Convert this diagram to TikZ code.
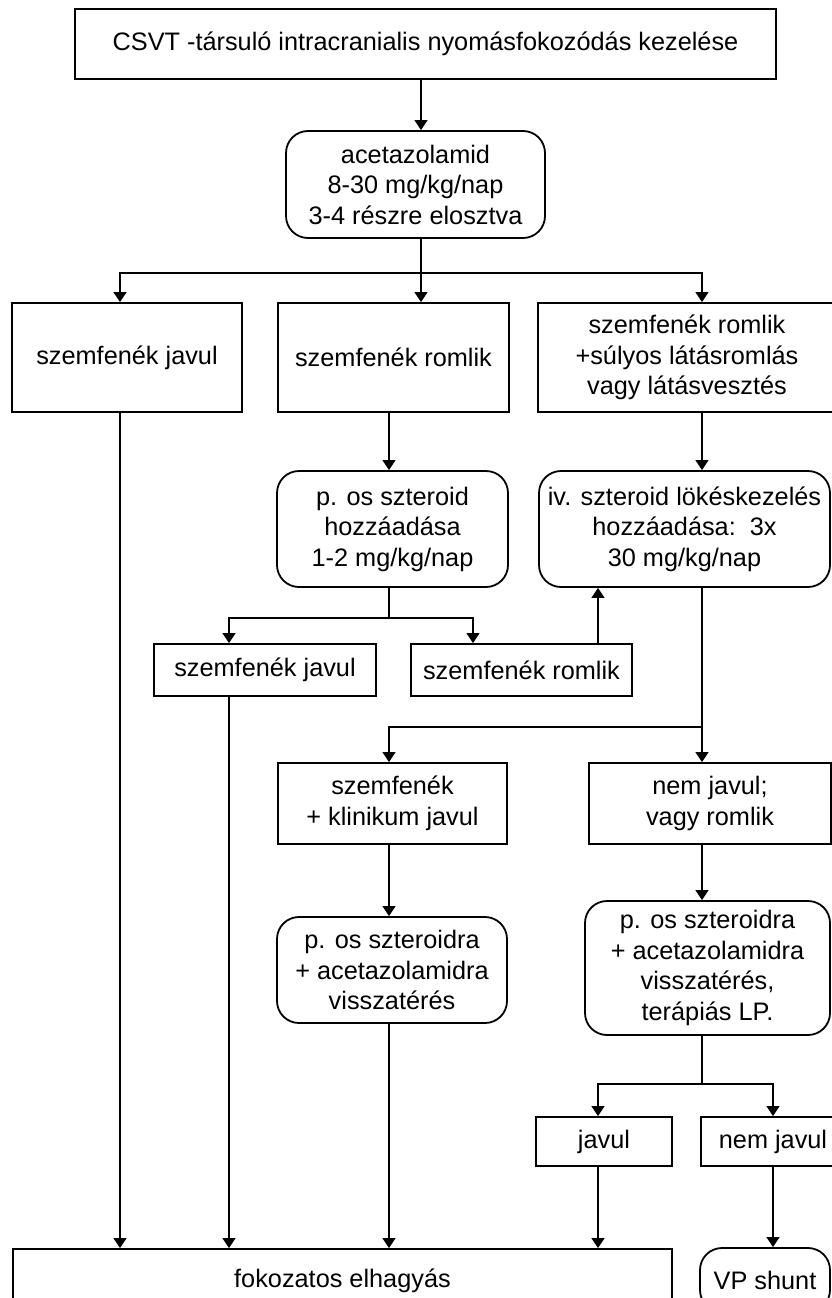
\documentclass[tikz,border=0pt]{standalone}
\usepackage{fontspec}
\setmainfont{Liberation Sans}
\usetikzlibrary{arrows.meta}
\tikzset{
	box/.style={draw, line width=1.8pt, align=center, inner sep=0pt},
	rbox/.style={box, rounded corners=22pt},
	conn/.style={line width=1.3pt}
}
\begin{document}
\begin{tikzpicture}[x=1pt,y=-1pt,>={Triangle[width=13pt,length=10pt]},font=\fontsize{25.3}{30.5}\selectfont]
	\useasboundingbox[fill=white] (0,0) rectangle (832,1298);
	% columns and split rows
	\coordinate (k0) at (421,0); \coordinate (k1) at (120,0); \coordinate (k2) at (229,0);
	\coordinate (k3) at (389,0); \coordinate (k4) at (473,0); \coordinate (k5) at (598,0);
	\coordinate (k6) at (702,0); \coordinate (k7) at (773,0);
	\coordinate (s1) at (0,273); \coordinate (s2) at (0,618);
	\coordinate (s3) at (0,727); \coordinate (s4) at (0,1084);
	% boxes
	\node [box, minimum width=701pt, minimum height=70pt] (top) at (425.5,44) {CSVT -társuló intracranialis nyomásfokozódás kezelése};
	\node [rbox, minimum width=259pt, minimum height=107pt] (acet) at (415.5,184.5) {acetazolamid\\8-30 mg/kg/nap\\3-4 részre elosztva};
	\node [box, minimum width=230pt, minimum height=109pt] (javul1) at (127,357.5) {szemfenék javul};
	\node [box, minimum width=231pt, minimum height=109pt] (romlik1) at (393.5,357.5) {szemfenék romlik};
	\node [box, minimum width=298pt, minimum height=109pt] (romlik2) at (687,357.5) {szemfenék romlik\\+súlyos látásromlás\\vagy látásvesztés};
	\node [rbox, minimum width=231pt, minimum height=116pt] (ossz) at (392.5,529) {p. os szteroid\\hozzáadása\\1-2 mg/kg/nap};
	\node [rbox, minimum width=291pt, minimum height=116pt] (ivsz) at (684.5,529) {iv. szteroid lökéskezelés\\hozzáadása:\ \ 3x\\30 mg/kg/nap};
	\node [box, minimum width=222pt, minimum height=52pt] (javul2) at (265,670) {szemfenék javul};
	\node [box, minimum width=221pt, minimum height=52pt] (romlik3) at (521.5,670) {szemfenék romlik};
	\node [box, minimum width=229pt, minimum height=81pt] (klin) at (392.5,803.5) {szemfenék\\+ klinikum javul};
	\node [box, minimum width=242pt, minimum height=81pt] (nemj1) at (710,803.5) {nem javul;\\vagy romlik};
	\node [rbox, minimum width=230pt, minimum height=106pt] (visz1) at (392,970) {p. os szteroidra\\+ acetazolamidra\\visszatérés};
	\node [rbox, minimum width=245pt, minimum height=134pt] (visz2) at (707.5,968) {p. os szteroidra\\+ acetazolamidra\\visszatérés,\\terápiás LP.};
	\node [box, minimum width=136pt, minimum height=49pt] (javul3) at (604,1141.5) {javul};
	\node [box, minimum width=144pt, minimum height=49pt] (nemj2) at (773,1141.5) {nem javul};
	\node [box, minimum width=659pt, minimum height=63pt] (fok) at (342.5,1280.5) {fokozatos elhagyás};
	\node [rbox, minimum width=130pt, minimum height=64pt] (vp) at (765,1280) {VP shunt};
	% connectors
	\draw [conn,->] (top.south -| k0) -- (acet.north -| k0);
	\draw [conn] (acet.south -| k0) -- (s1 -| k0);
	\draw [conn,->] (s1 -| k0) -| (javul1.north -| k1);
	\draw [conn,->] (s1 -| k0) -- (romlik1.north -| k0);
	\draw [conn,->] (s1 -| k0) -| (romlik2.north -| k6);
	\draw [conn,->] (romlik1.south -| k3) -- (ossz.north -| k3);
	\draw [conn,->] (romlik2.south -| k6) -- (ivsz.north -| k6);
	\draw [conn] (ossz.south -| k3) -- (s2 -| k3);
	\draw [conn,->] (s2 -| k3) -| (javul2.north -| k2);
	\draw [conn,->] (s2 -| k3) -| (romlik3.north -| k4);
	\draw [conn,->] (romlik3.north -| k5) -- (ivsz.south -| k5);
	\draw [conn] (ivsz.south -| k6) -- (s3 -| k6);
	\draw [conn,->] (s3 -| k6) -| (klin.north -| k3);
	\draw [conn,->] (s3 -| k6) -- (nemj1.north -| k6);
	\draw [conn,->] (klin.south -| k3) -- (visz1.north -| k3);
	\draw [conn,->] (nemj1.south -| k6) -- (visz2.north -| k6);
	\draw [conn] (visz2.south -| k6) -- (s4 -| k6);
	\draw [conn,->] (s4 -| k6) -| (javul3.north -| k5);
	\draw [conn,->] (s4 -| k6) -| (nemj2.north -| k7);
	\draw [conn,->] (nemj2.south -| k7) -- (vp.north -| k7);
	\foreach \n/\k in {javul1/k1, javul2/k2, visz1/k3, javul3/k5}
		\draw [conn,->] (\n.south -| \k) -- (fok.north -| \k);
\end{tikzpicture}
\end{document}
